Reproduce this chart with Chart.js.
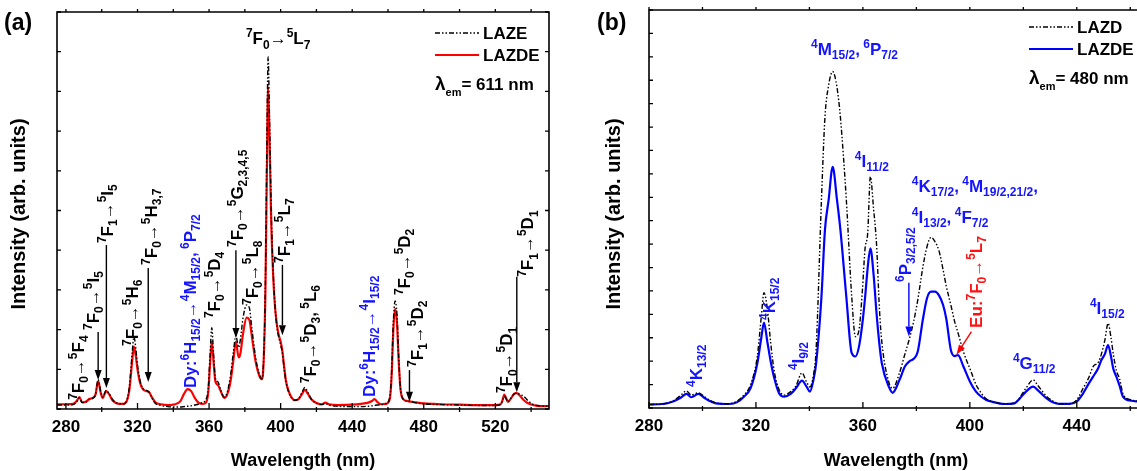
<!DOCTYPE html>
<html>
<head>
<meta charset="utf-8">
<script src="https://cdn.jsdelivr.net/npm/chart.js@4.4.1/dist/chart.umd.min.js"></script>
<style>
    html, body { margin: 0; padding: 0; background: #fff; overflow: hidden; width: 1137px; height: 471px; }
    #wrapA { position: absolute; left: 0; top: 0; }
    #wrapB { position: absolute; left: 580px; top: 0; }
</style>
</head>
<body>
<div id="wrapA"><canvas id="chartA" width="568" height="471"></canvas></div>
<div id="wrapB"><canvas id="chartB" width="600" height="471"></canvas></div>
<script>
// Panel (a): excitation spectra, lambda_em = 611 nm
const wavelengthA = [275, 280, 284, 286, 287.5, 289, 291, 293, 295, 296.5, 298, 299.5, 300.5, 302.5, 304, 306, 308, 310, 312, 314,
    315.5, 317, 318, 319, 320, 321.5, 323, 325, 326.5, 328, 330, 333, 337, 341, 344, 346, 348, 350, 352, 354,
    356, 358, 359.5, 360.5, 361.5, 362.5, 363.5, 365, 366.5, 368.5, 370, 372, 373.5, 375, 376.5, 377.5, 379, 381, 382.5, 384,
    386, 388, 389.5, 390.5, 391.5, 392.3, 393, 393.8, 394.8, 396, 397, 398, 399, 400, 401, 402, 403, 404.5, 406, 408,
    410, 412, 413.5, 415, 417, 420, 423, 425, 427, 432, 440, 445, 449, 451, 452.5, 454, 456, 459, 461, 462,
    463, 464, 465, 466, 467, 468.5, 471, 475, 480, 490, 500, 510, 520, 523, 524, 525, 526, 527, 528.5, 530.5,
    532, 534, 536, 538, 541, 545, 550];
const lazdeA = [0.12, 0.12, 0.13, 0.20, 0.30, 0.17, 0.18, 0.25, 0.28, 0.36, 0.70, 0.40, 0.28, 0.45, 0.38, 0.22, 0.15, 0.13, 0.13, 0.20,
    0.50, 1.20, 1.57, 1.35, 1.00, 0.65, 0.50, 0.45, 0.42, 0.30, 0.17, 0.12, 0.10, 0.12, 0.20, 0.38, 0.50, 0.45, 0.28, 0.16,
    0.13, 0.15, 0.40, 1.10, 1.70, 1.20, 0.70, 0.60, 0.45, 0.28, 0.35, 0.70, 1.20, 1.70, 1.30, 1.40, 1.90, 2.30, 2.25, 1.80,
    1.20, 0.85, 0.75, 1.20, 3.00, 6.00, 8.10, 6.80, 4.60, 3.20, 2.50, 2.10, 1.85, 1.70, 1.45, 1.05, 0.70, 0.45, 0.30, 0.22,
    0.25, 0.38, 0.48, 0.40, 0.25, 0.15, 0.12, 0.16, 0.12, 0.10, 0.11, 0.13, 0.16, 0.20, 0.25, 0.18, 0.12, 0.13, 0.25, 0.80,
    2.00, 2.52, 2.20, 1.20, 0.50, 0.25, 0.20, 0.17, 0.14, 0.12, 0.11, 0.10, 0.10, 0.12, 0.22, 0.36, 0.28, 0.18, 0.25, 0.38,
    0.40, 0.32, 0.22, 0.15, 0.10, 0.07, 0.07];
const lazeA = [0.10, 0.10, 0.11, 0.18, 0.28, 0.16, 0.17, 0.24, 0.27, 0.36, 0.74, 0.42, 0.30, 0.47, 0.40, 0.24, 0.16, 0.13, 0.13, 0.22,
    0.58, 1.40, 1.82, 1.55, 1.10, 0.70, 0.52, 0.47, 0.42, 0.28, 0.14, 0.09, 0.06, 0.05, 0.05, 0.06, 0.07, 0.08, 0.10, 0.12,
    0.16, 0.22, 0.50, 1.30, 2.05, 1.40, 0.78, 0.68, 0.48, 0.30, 0.40, 0.85, 1.40, 1.85, 1.55, 1.75, 2.30, 2.62, 2.55, 2.00,
    1.30, 0.88, 0.76, 1.25, 3.20, 6.60, 8.87, 7.30, 4.90, 3.30, 2.50, 2.05, 1.80, 1.62, 1.40, 1.00, 0.68, 0.42, 0.28, 0.22,
    0.26, 0.42, 0.54, 0.44, 0.26, 0.14, 0.11, 0.14, 0.10, 0.07, 0.06, 0.06, 0.07, 0.08, 0.09, 0.10, 0.11, 0.14, 0.30, 0.90,
    2.20, 2.72, 2.40, 1.30, 0.52, 0.25, 0.20, 0.16, 0.13, 0.11, 0.10, 0.09, 0.09, 0.12, 0.20, 0.32, 0.26, 0.18, 0.26, 0.38,
    0.40, 0.36, 0.32, 0.22, 0.12, 0.08, 0.07];

// Panel (b): excitation spectra, lambda_em = 480 nm
const wavelengthB = [280, 285, 289, 292, 294, 295.8, 298.5, 300.5, 302, 305, 310, 313, 315.5, 318, 320.5, 322, 323, 324.3, 325.5, 326.8,
    328.6, 330.5, 333, 335, 337.2, 339, 340.2, 341.5, 342.5, 344.5, 345.8, 347.2, 348.7, 350.3, 351.6, 353.8, 355.8, 357.2, 358.5, 359.8,
    360.8, 361.8, 362.8, 364, 365.1, 366.2, 367.1, 369.7, 371.1, 373.7, 375.7, 377.5, 379, 380.5, 382.4, 384, 385.5, 387, 388.5, 390,
    391.2, 392.9, 394.3, 395.6, 397.6, 400.3, 402.3, 404.3, 406, 408.2, 413, 416.7, 418.7, 421, 423.7, 425.5, 428.7, 431, 433.6, 437,
    439.9, 442.4, 444.5, 446.1, 448, 449.2, 450.5, 451.7, 452.8, 453.6, 454.8, 456, 457.3, 460.4, 463, 466, 470];
const lazdeB = [0.15, 0.17, 0.28, 0.45, 0.60, 0.46, 0.60, 0.45, 0.34, 0.20, 0.17, 0.25, 0.48, 0.85, 1.90, 3.00, 3.65, 2.80, 2.00, 1.30,
    0.64, 0.48, 0.60, 0.85, 1.17, 0.90, 0.70, 1.20, 1.90, 4.75, 7.60, 8.90, 10.30, 8.90, 7.60, 4.75, 2.35, 2.20, 2.60, 3.60,
    4.70, 6.00, 6.82, 5.70, 4.05, 2.70, 1.90, 0.91, 0.65, 1.20, 1.77, 2.00, 2.10, 2.40, 3.76, 4.70, 4.97, 4.97, 4.80, 4.40,
    3.80, 2.48, 2.22, 2.26, 1.77, 1.07, 0.70, 0.48, 0.35, 0.27, 0.17, 0.20, 0.41, 0.70, 0.91, 0.75, 0.41, 0.25, 0.18, 0.18,
    0.27, 0.63, 1.05, 1.34, 1.70, 2.05, 2.30, 2.69, 2.20, 1.70, 1.34, 0.95, 0.48, 0.31, 0.28, 0.25, 0.22];
const lazdB = [0.15, 0.17, 0.30, 0.55, 0.73, 0.55, 0.65, 0.50, 0.38, 0.22, 0.18, 0.30, 0.55, 1.00, 2.20, 3.90, 4.93, 4.20, 2.80, 1.60,
    0.80, 0.55, 0.70, 0.95, 1.50, 1.10, 0.90, 1.40, 2.50, 8.90, 12.40, 13.80, 14.37, 13.70, 12.40, 8.90, 4.80, 3.05, 3.30, 5.00,
    6.80, 7.47, 9.88, 8.50, 7.00, 4.20, 2.80, 1.10, 0.84, 1.50, 2.30, 3.00, 3.70, 4.60, 6.00, 6.90, 7.29, 7.10, 6.70, 5.90,
    5.20, 4.40, 3.70, 3.20, 2.40, 1.60, 1.00, 0.63, 0.40, 0.28, 0.18, 0.20, 0.45, 0.85, 1.20, 0.95, 0.50, 0.30, 0.18, 0.18,
    0.33, 0.85, 1.30, 1.77, 1.95, 2.30, 2.90, 3.62, 3.00, 2.34, 1.60, 1.25, 0.60, 0.34, 0.30, 0.26, 0.22];

// Eixos
const xMajorA = [280, 320, 360, 400, 440, 480, 520];
const xMinorA = [300, 340, 380, 420, 460, 500, 540];
const xMajorB = [280, 320, 360, 400, 440];
const xMinorB = [300, 340, 380, 420, 460];
const yTicksA = [0, 1, 2, 3, 4, 5, 6, 7, 8, 9, 10];
const yTicksB = [0, 1, 2, 3, 4, 5, 6, 7, 8, 9, 10, 11, 12, 13, 14, 15, 16, 17];

const FONT = '"Liberation Sans", Arial, Helvetica, sans-serif';
const BLUE_TXT = '#1414ff';
const RED_TXT = '#ff1010';
const DASH = [5, 2, 1.5, 2, 1.5, 2];
const THIN = '\u2009';

// Anotações (posição em coordenadas dos dados: x = comprimento de onda, y = intensidade)
const notesA = [
    { t: '^{7}F_{0}→^{5}F_{4}', x: 289.9, y: 0.23, rot: true },
    { t: '^{7}F_{0}→^{5}I_{5}', x: 298.3, y: 1.99, rot: true },
    { t: '^{7}F_{1}→^{5}I_{5}', x: 306.2, y: 4.18, rot: true },
    { t: '^{7}F_{0}→^{5}H_{6}', x: 320.1, y: 1.59, rot: true },
    { t: '^{7}F_{0}→^{5}H_{3,7}', x: 330.8, y: 3.63, rot: true },
    { t: 'Dy:^{6}H_{15/2}→^{4}M_{15/2},' + THIN + '^{6}P_{7/2}', x: 352.6, y: 0.53, rot: true, c: BLUE_TXT },
    { t: '^{7}F_{0}→^{5}D_{4}', x: 366, y: 2.29, rot: true },
    { t: '^{7}F_{0}→^{5}G_{2,3,4,5}', x: 378.9, y: 4.08, rot: true },
    { t: '^{7}F_{0}→^{5}L_{8}', x: 387.3, y: 2.62, rot: true },
    { t: '^{7}F_{1}→^{5}L_{7}', x: 405.2, y: 3.68, rot: true },
    { t: '^{7}F_{0}→^{5}D_{3},' + THIN + '^{5}L_{6}', x: 419.7, y: 0.65, rot: true },
    { t: 'Dy:^{6}H_{15/2}→^{4}I_{15/2}', x: 452.7, y: 0.30, rot: true, c: BLUE_TXT },
    { t: '^{7}F_{0}→^{5}D_{2}', x: 472.3, y: 2.87, rot: true },
    { t: '^{7}F_{1}→^{5}D_{2}', x: 479.6, y: 1.06, rot: true },
    { t: '^{7}F_{0}→^{5}D_{1}', x: 529.4, y: 0.40, rot: true },
    { t: '^{7}F_{1}→^{5}D_{1}', x: 541.2, y: 3.33, rot: true },
    { t: '^{7}F_{0}→^{5}L_{7}', x: 380.6, y: 9.19, rot: false }
];
const arrowsA = [
    { x1: 298, y1: 1.94, x2: 298, y2: 0.73 },
    { x1: 302.6, y1: 4.13, x2: 302.6, y2: 0.53 },
    { x1: 326, y1: 3.55, x2: 326, y2: 0.68 },
    { x1: 375, y1: 4.00, x2: 375, y2: 1.79 },
    { x1: 401, y1: 3.63, x2: 401, y2: 1.86 },
    { x1: 472, y1: 0.98, x2: 472, y2: 0.18 },
    { x1: 532, y1: 3.33, x2: 532, y2: 0.42 }
];
const notesB = [
    { t: '^{4}K_{13/2}', x: 299.8, y: 0.90, rot: true, c: BLUE_TXT },
    { t: '^{4}K_{15/2}', x: 327.1, y: 3.76, rot: true, c: BLUE_TXT },
    { t: '^{4}I_{9/2}', x: 337.9, y: 1.62, rot: true, c: BLUE_TXT },
    { t: '^{6}P_{3/2,5/2}', x: 377.9, y: 5.38, rot: true, c: BLUE_TXT },
    { t: 'Eu:^{7}F_{0}→^{5}L_{7}', x: 404.5, y: 3.42, rot: true, c: RED_TXT },
    { t: '^{4}M_{15/2},' + THIN + '^{6}P_{7/2}', x: 340.6, y: 15.09, rot: false, c: BLUE_TXT },
    { t: '^{4}I_{11/2}', x: 357, y: 10.3, rot: false, c: BLUE_TXT },
    { t: '^{4}K_{17/2},' + THIN + '^{4}M_{19/2,21/2},', x: 378.3, y: 9.23, rot: false, c: BLUE_TXT },
    { t: '^{4}I_{13/2},' + THIN + '^{4}F_{7/2}', x: 378.3, y: 7.9, rot: false, c: BLUE_TXT },
    { t: '^{4}G_{11/2}', x: 416.1, y: 1.67, rot: false, c: BLUE_TXT },
    { t: '^{4}I_{15/2}', x: 444.9, y: 4.02, rot: false, c: BLUE_TXT }
];
const arrowsB = [
    { x1: 377.2, y1: 5.35, x2: 377.2, y2: 3.05, c: '#0000ff' },
    { x1: 400.6, y1: 3.26, x2: 395, y2: 2.27, c: '#ff0000' }
];

// Texto com sobrescritos e subscritos: ^{..} e _{..}
function parseRich(str) {
    const parts = [];
    let i = 0;
    while (i < str.length) {
        if ((str[i] === '^' || str[i] === '_') && str[i + 1] === '{') {
            const end = str.indexOf('}', i);
            parts.push({ t: str.slice(i + 2, end), m: str[i] === '^' ? 'sup' : 'sub' });
            i = end + 1;
        } else {
            let j = i;
            while (j < str.length && !((str[j] === '^' || str[j] === '_') && str[j + 1] === '{')) j++;
            parts.push({ t: str.slice(i, j), m: 'n' });
            i = j;
        }
    }
    return parts;
}

function drawRich(ctx, str, x, y, size, color, rotate) {
    const small = Math.round(size * 0.7);
    ctx.save();
    ctx.translate(x, y);
    if (rotate) ctx.rotate(-Math.PI / 2);
    ctx.fillStyle = color;
    ctx.textAlign = 'left';
    ctx.textBaseline = 'alphabetic';
    let cx = 0;
    parseRich(str).forEach(p => {
        ctx.font = 'bold ' + (p.m === 'n' ? size : small) + 'px ' + FONT;
        const dy = p.m === 'sup' ? -size * 0.42 : (p.m === 'sub' ? size * 0.26 : 0);
        ctx.fillText(p.t, cx, dy);
        cx += ctx.measureText(p.t).width;
    });
    ctx.restore();
}

function drawArrow(ctx, x1, y1, x2, y2, color) {
    const ang = Math.atan2(y2 - y1, x2 - x1);
    const len = 10, half = 3.5;
    const bx = x2 - len * Math.cos(ang), by = y2 - len * Math.sin(ang);
    ctx.save();
    ctx.strokeStyle = color;
    ctx.fillStyle = color;
    ctx.lineWidth = 1.4;
    ctx.beginPath();
    ctx.moveTo(x1, y1);
    ctx.lineTo(bx, by);
    ctx.stroke();
    ctx.beginPath();
    ctx.moveTo(x2, y2);
    ctx.lineTo(bx + half * Math.sin(ang), by - half * Math.cos(ang));
    ctx.lineTo(bx - half * Math.sin(ang), by + half * Math.cos(ang));
    ctx.closePath();
    ctx.fill();
    ctx.restore();
}

// Moldura, marcas e rótulos dos eixos
function framePlugin(opt) {
    return {
        id: 'frame',
        afterDatasetsDraw(chart) {
            const { ctx, chartArea: a, scales: { x, y } } = chart;
            ctx.save();
            ctx.strokeStyle = '#000';
            ctx.lineWidth = 1.6;
            ctx.beginPath();
            ctx.moveTo(a.left, a.top);
            ctx.lineTo(a.left, a.bottom);
            ctx.lineTo(a.right, a.bottom);
            ctx.lineTo(a.right, a.top);
            ctx.closePath();
            ctx.stroke();

            ctx.lineWidth = 1.3;
            ctx.beginPath();
            opt.major.forEach(v => {
                const px = x.getPixelForValue(v);
                ctx.moveTo(px, a.bottom); ctx.lineTo(px, a.bottom - 6);
            });
            opt.minor.forEach(v => {
                const px = x.getPixelForValue(v);
                ctx.moveTo(px, a.bottom - 2); ctx.lineTo(px, a.bottom + 3);
            });
            opt.major.concat(opt.minor).forEach(v => {
                const px = x.getPixelForValue(v);
                ctx.moveTo(px, a.top); ctx.lineTo(px, a.top - 3);
            });
            opt.yTicks.forEach(v => {
                const py = y.getPixelForValue(v);
                ctx.moveTo(a.left, py); ctx.lineTo(a.left + 4, py);
                ctx.moveTo(a.right, py); ctx.lineTo(a.right - 4, py);
            });
            ctx.stroke();

            ctx.fillStyle = '#000';
            ctx.font = 'bold 17px ' + FONT;
            ctx.textAlign = 'center';
            ctx.textBaseline = 'middle';
            opt.major.forEach(v => ctx.fillText(String(v), x.getPixelForValue(v), a.bottom + 18));

            ctx.font = 'bold 18px ' + FONT;
            ctx.fillText('Wavelength (nm)', opt.xTitle, 461);
            ctx.save();
            ctx.translate(opt.yTitle, 214);
            ctx.rotate(-Math.PI / 2);
            ctx.font = 'bold 20px ' + FONT;
            ctx.fillText('Intensity (arb. units)', 0, 0);
            ctx.restore();

            ctx.font = 'bold 23px ' + FONT;
            ctx.textAlign = 'left';
            ctx.fillText(opt.letter, opt.letterX, 24);
            ctx.restore();
        },
        afterDraw(chart) {
            const { ctx, scales: { x, y } } = chart;
            opt.notes.forEach(n => {
                drawRich(ctx, n.t, x.getPixelForValue(n.x), y.getPixelForValue(n.y), 17, n.c || '#000', n.rot);
            });
            opt.arrows.forEach(r => {
                drawArrow(ctx, x.getPixelForValue(r.x1), y.getPixelForValue(r.y1),
                    x.getPixelForValue(r.x2), y.getPixelForValue(r.y2), r.c || '#000');
            });

            // Legenda
            const L = opt.legend;
            ctx.save();
            L.items.forEach((it, k) => {
                const ly = L.top + k * 22;
                ctx.strokeStyle = it.color;
                ctx.lineWidth = it.width;
                ctx.setLineDash(it.dash);
                ctx.beginPath();
                ctx.moveTo(L.x, ly); ctx.lineTo(L.x + 44, ly);
                ctx.stroke();
                ctx.setLineDash([]);
                ctx.fillStyle = '#000';
                ctx.font = 'bold 17px ' + FONT;
                ctx.textAlign = 'left';
                ctx.textBaseline = 'middle';
                ctx.fillText(it.label, L.x + 48, ly + 1);
            });
            ctx.textBaseline = 'alphabetic';
            ctx.font = 'bold 19px ' + FONT;
            ctx.fillText('λ', L.x, L.top + 57);
            const lw = ctx.measureText('λ').width;
            ctx.font = 'bold 11px ' + FONT;
            ctx.fillText('em', L.x + lw, L.top + 63);
            const ew = ctx.measureText('em').width;
            ctx.font = 'bold 17px ' + FONT;
            ctx.fillText('= ' + L.lambda, L.x + lw + ew, L.top + 57);
            ctx.restore();
        }
    };
}

function makeSeries(xs, ys) {
    return xs.map((v, i) => ({ x: v, y: ys[i] }));
}

function makeChart(id, cfg) {
    return new Chart(document.getElementById(id), {
        type: 'line',
        data: {
            datasets: [{
                label: cfg.names[0],
                data: makeSeries(cfg.xs, cfg.black),
                borderColor: '#000',
                borderWidth: 1.4,
                borderDash: DASH,
                pointRadius: 0,
                cubicInterpolationMode: 'monotone',
                fill: false
            }, {
                label: cfg.names[1],
                data: makeSeries(cfg.xs, cfg.color),
                borderColor: cfg.lineColor,
                borderWidth: 2.2,
                pointRadius: 0,
                cubicInterpolationMode: 'monotone',
                fill: false
            }]
        },
        options: {
            responsive: false,
            animation: false,
            layout: { padding: cfg.padding },
            plugins: { legend: { display: false }, tooltip: { enabled: false } },
            scales: {
                x: { type: 'linear', min: cfg.xmin, max: cfg.xmax, display: false },
                y: { type: 'linear', min: 0, max: cfg.ymax, display: false }
            }
        },
        plugins: [framePlugin(cfg.frame)]
    });
}

makeChart('chartA', {
    xs: wavelengthA, black: lazeA, color: lazdeA, lineColor: '#ff0000',
    names: ['LAZE', 'LAZDE'],
    xmin: 275, xmax: 550, ymax: 10,
    padding: { left: 57, right: 19, top: 12, bottom: 62 },
    frame: {
        major: xMajorA, minor: xMinorA, yTicks: yTicksA,
        xTitle: 303, yTitle: 19, letter: '(a)', letterX: 4,
        notes: notesA, arrows: arrowsA,
        legend: {
            x: 435, top: 33, lambda: '611 nm',
            items: [
                { label: 'LAZE', color: '#000', width: 1.4, dash: DASH },
                { label: 'LAZDE', color: '#ff0000', width: 2.2, dash: [] }
            ]
        }
    }
});

makeChart('chartB', {
    xs: wavelengthB, black: lazdB, color: lazdeB, lineColor: '#0000ff',
    names: ['LAZD', 'LAZDE'],
    xmin: 280, xmax: 470, ymax: 17,
    padding: { left: 69, right: 23, top: 10, bottom: 63 },
    frame: {
        major: xMajorB, minor: xMinorB, yTicks: yTicksB,
        xTitle: 316, yTitle: 34, letter: '(b)', letterX: 17,
        notes: notesB, arrows: arrowsB,
        legend: {
            x: 449, top: 27, lambda: '480 nm',
            items: [
                { label: 'LAZD', color: '#000', width: 1.4, dash: DASH },
                { label: 'LAZDE', color: '#0000ff', width: 2.2, dash: [] }
            ]
        }
    }
});
</script>
</body>
</html>
